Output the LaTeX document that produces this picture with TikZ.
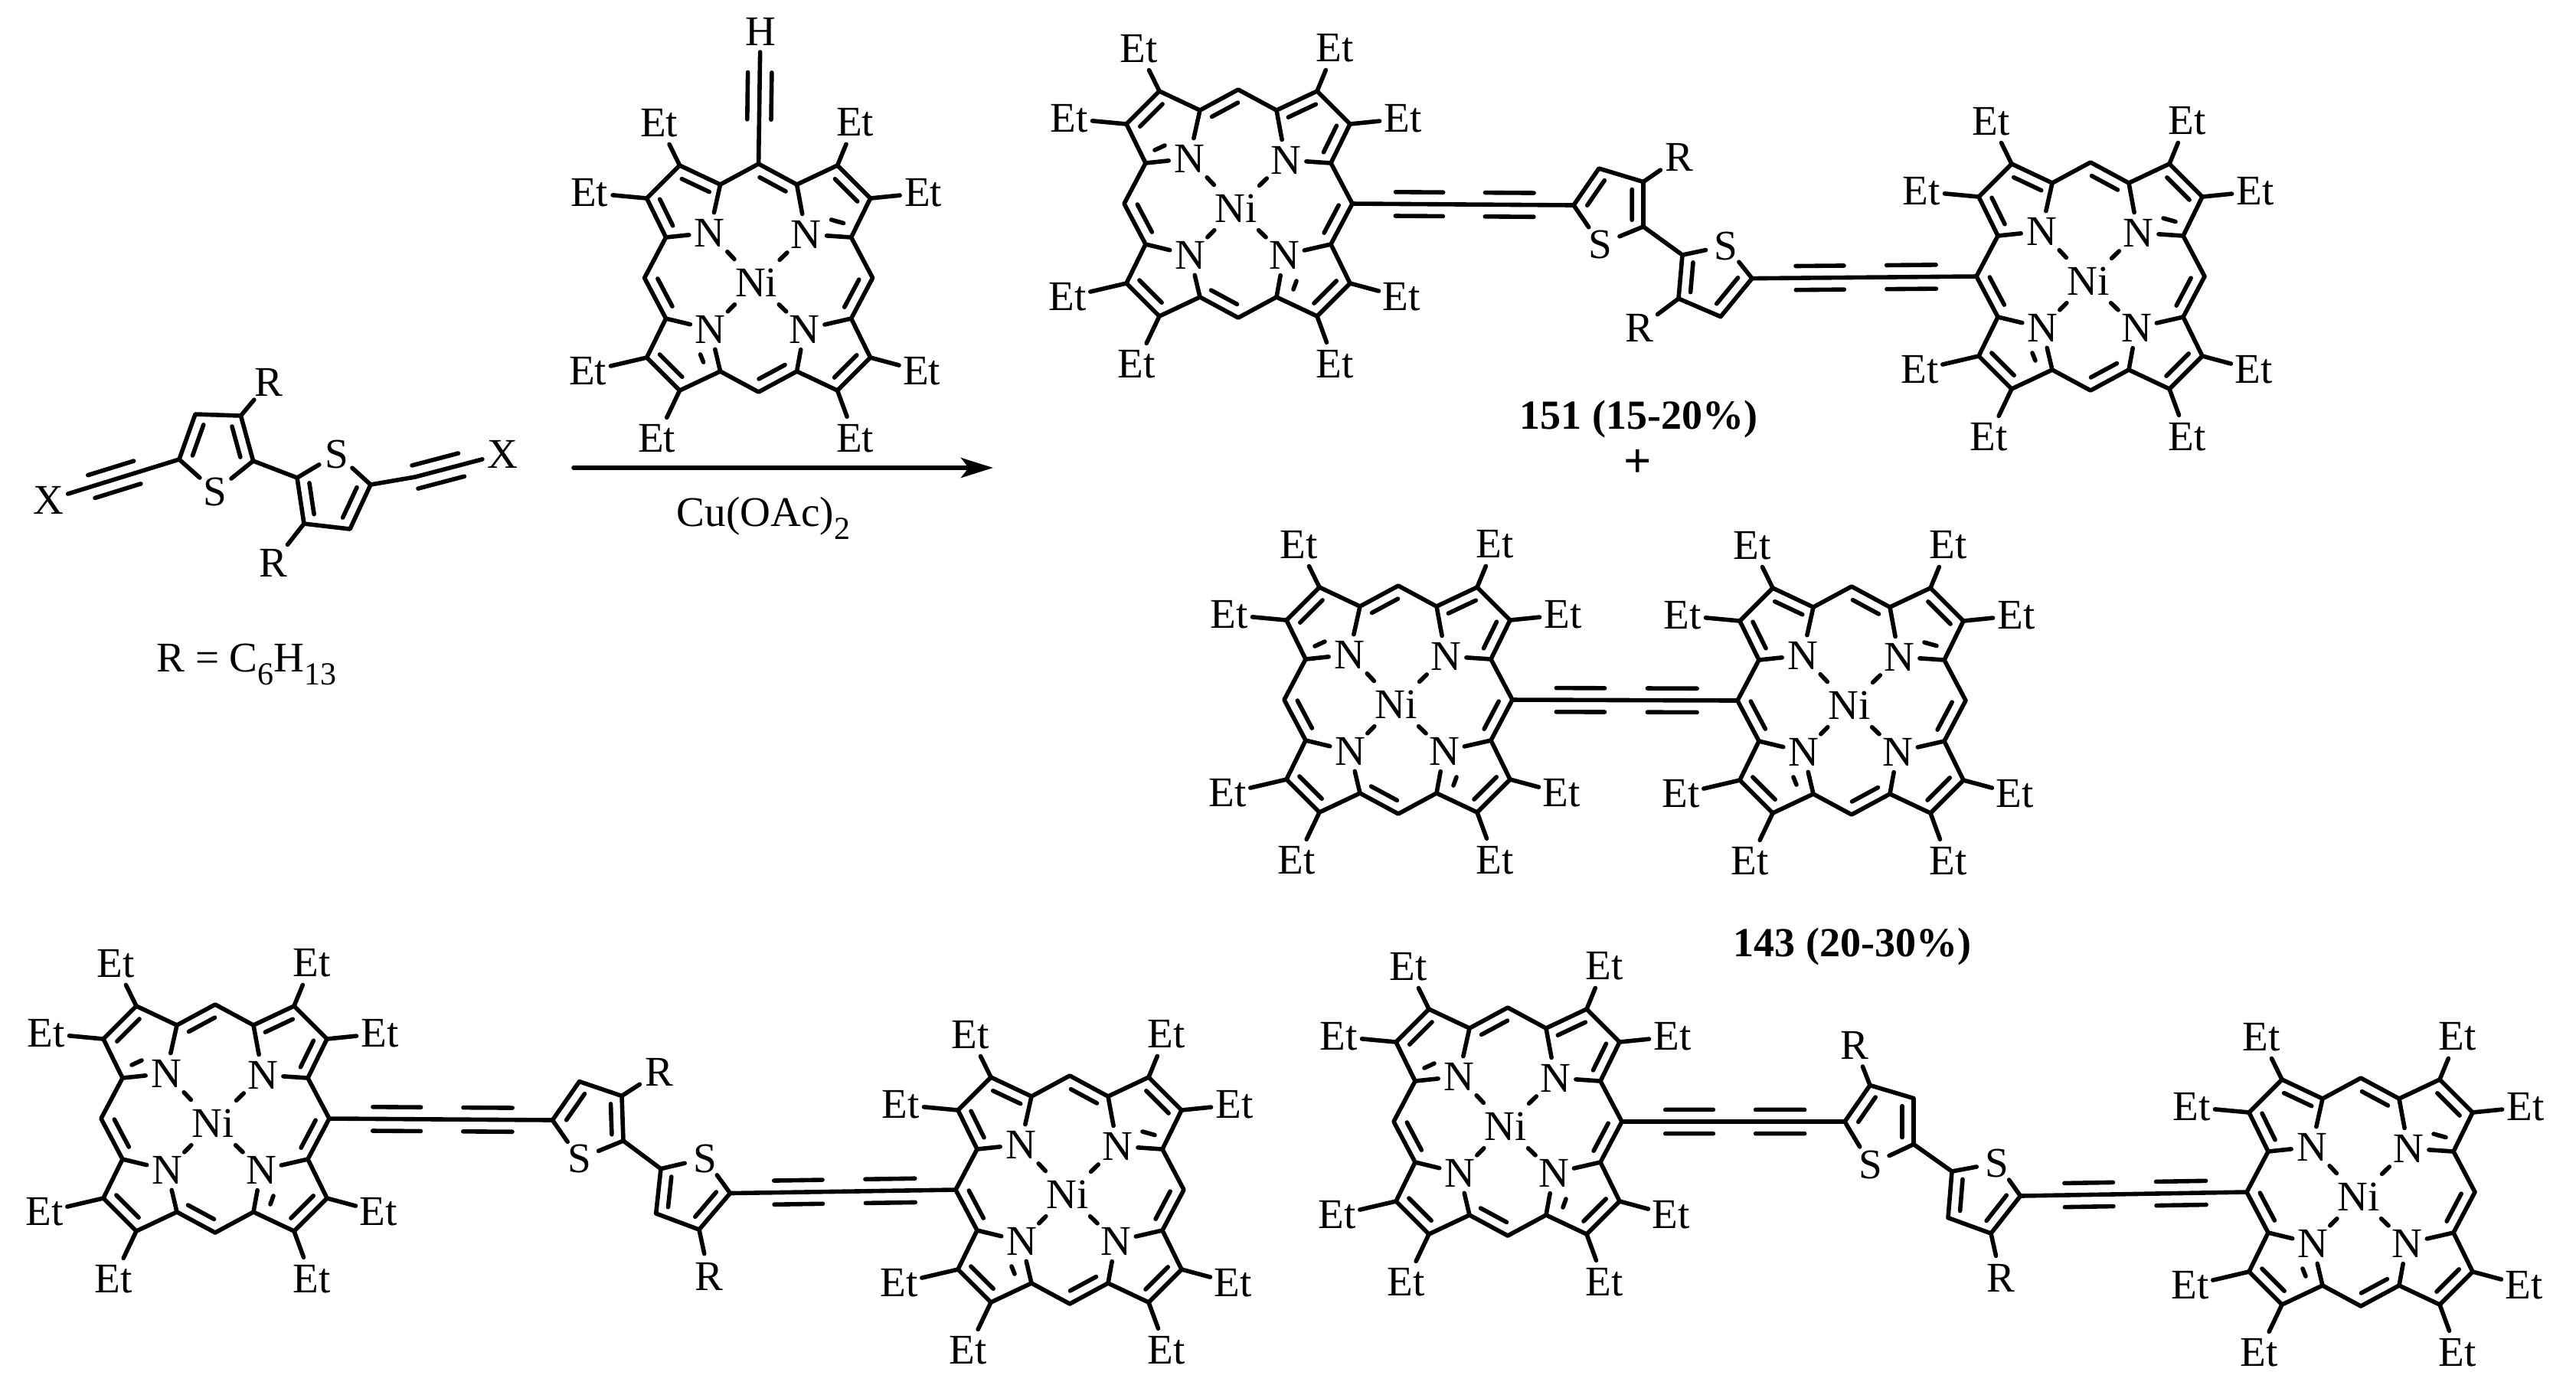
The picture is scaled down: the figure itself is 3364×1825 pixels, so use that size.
\documentclass[tikz,border=0pt]{standalone}
\usepackage{fontspec}
\setmainfont{Liberation Serif}
\usetikzlibrary{
		calc,
		arrows.meta
	}
\newcommand{\bsep}{3.9pt}
\newcommand{\dsep}{3.7pt}
\newcommand{\kekA}{0/1,2/3,5/6,7/8,9/10,12/13,14/15,16/17,18/19}
\newcommand{\kekB}{19/0,1/2,3/4,5/6,7/8,10/11,12/13,14/15,17/18}
\newcommand{\stubA}{95/-76/111/-71.5,-76/100/-72/110}
\newcommand{\stubB}{-109/-70/-96/-76,72/112/76/101}
\newcommand{\lowsub}[1]{\raisebox{-.3em}{\fontsize{10.5}{12}\selectfont #1}}
\tikzset{
		>=Stealth,
		bond/.style={line width=1.4pt,line cap=round,line join=round},
		atom/.style={circle,inner sep=0pt,outer sep=0pt,minimum size=13.5pt,font=\fontsize{13.8}{15}\selectfont},
		etatom/.style={atom,minimum size=15pt},
		lbl/.style={font=\fontsize{13.8}{15}\selectfont},
		boldlbl/.style={font=\fontsize{13.5}{15}\selectfont\bfseries},
		pics/porph/.style 2 args={code={
			\foreach \x/\y [count=\n from 0] in {0/-149,50/-122,103/-147,146/-104,121/-53,149/0,121/53,146/104,103/147,50/122,0/149,-50/122,-103/147,-146/104,-121/53,-149/0,-121/-53,-146/-104,-103/-147,-50/-122}{
				\coordinate (-c\n) at (\x,\y);
			}
			\draw[bond] (-c0) foreach \n in {1,...,19}{ -- (-c\n) } -- cycle;
			\foreach \a/\b in #1 { % inner line of each double bond
				\draw[bond] ($(-c\a)!.17!(-c\b)!\dsep!-90:(-c\b)$) -- ($(-c\a)!.85!(-c\b)!\dsep!90:(-c\a)$);
			}
			\foreach \xa/\ya/\xb/\yb in #2 {
				\draw[bond] (\xa,\ya) -- (\xb,\yb);
			}
			\node[atom] (-ni) at (-3,6) {Ni};
			\foreach \k/\x/\y in {1/-64/-59,2/62/-57,3/60/67,4/-63/67}{
				\node[atom] (-n\k) at (\x,\y) {N};
				\draw[bond] ($(-n\k)!.38!(-ni)$) -- ($(-n\k)!.53!(-ni)$);
			}
			\foreach \n/\k in {19/1,16/1,1/2,4/2,6/3,9/3,11/4,14/4}{
				\draw[bond] (-c\n) -- (-n\k);
			}
			\foreach \n/\x/\y in {18/-130/-202,17/-221/-111,2/126/-203,3/215/-111,7/213/122,8/126/210,12/-133/210,13/-223/122}{
				\node[etatom] (-e\n) at (\x,\y) {Et};
				\draw[bond] (-c\n) -- (-e\n);
			}
		}},
		pics/thring/.style n args={5}{code={
			\coordinate (-a) at #1;
			\coordinate (-b) at #2;
			\coordinate (-c) at #3;
			\coordinate (-d) at #4;
			\node[atom] (-s) at #5 {S};
			\draw[bond] (-s) -- (-a) -- (-b) -- (-c) -- (-d) -- (-s);
			\foreach \a/\b in {a/b,c/d}{
				\draw[bond] ($(-\a)!.17!(-\b)!\dsep!-90:(-\b)$) -- ($(-\a)!.85!(-\b)!\dsep!90:(-\a)$);
			}
		}},
		pics/yne/.style n args={4}{code={
			\foreach \s/\t in {90/-90,-90/90}{
				\draw[bond] ($(#1)!#3!(#2)!\bsep!\s:(#2)$) -- ($(#1)!#4!(#2)!\bsep!\t:(#1)$);
			}
		}},
		pics/diyne/.style 2 args={code={
			\draw[bond] (#1) -- (#2);
			\pic {yne={#1}{#2}{.195}{.41}};
			\pic {yne={#1}{#2}{.60}{.82}};
		}}
	}
\begin{document}
\begin{tikzpicture}[x=.25pt,y=-.25pt] % (one unit = one pixel of the 3364 wide image)
		\useasboundingbox (0,0) rectangle (3364,1825);
		% the metal complexes
		\pic (pa) at (990.6,363) {porph={\kekA}{\stubA}};
		\pic (pb) at (1617,266) {porph={\kekB}{\stubB}};
		\pic (pc) at (2730,361) {porph={\kekA}{\stubA}};
		\pic (pd) at (1826,914) {porph={\kekB}{\stubB}};
		\pic (pe) at (2418,915) {porph={\kekA}{\stubA}};
		\pic (pf) at (281,1461) {porph={\kekB}{\stubB}};
		\pic (pg) at (1397,1554) {porph={\kekA}{\stubA}};
		\pic (ph) at (1969,1465) {porph={\kekB}{\stubB}};
		\pic (pi) at (3083,1557) {porph={\kekA}{\stubA}};
		% alkyne on the reagent
		\node[atom] (hatom) at (993,41) {H};
		\draw[bond] (pa-c0) -- (hatom);
		\pic {yne={pa-c0}{hatom}{.335}{.69}};
		% starting material
		\pic (ta) {thring={(234,600)}{(255,541)}{(314.5,543)}{(330.6,602)}{(281,642)}};
		\pic (tb) {thring={(484,633)}{(457,691)}{(397,684)}{(388,624)}{(440,593)}};
		\draw[bond] (ta-d) -- (tb-d);
		\node[etatom] (ra) at (351,499) {R};
		\node[etatom] (rb) at (357,735) {R};
		\draw[bond] (ta-c) -- (ra);
		\draw[bond] (tb-c) -- (rb);
		\node[atom] (xl) at (63,653) {X};
		\node[atom] (xr) at (656,593) {X};
		\coordinate (kink) at (542,623);
		\draw[bond] (ta-a) -- (xl);
		\draw[bond] (tb-a) -- (kink) -- (xr);
		\pic {yne={ta-a}{xl}{.32}{.67}};
		\pic {yne={kink}{xr}{0}{.53}};
		\node[lbl] (rdef) at (322,868) {R = C\lowsub{6}H\lowsub{13}};
		% reaction arrow
		\coordinate (arra) at (749,611);
		\coordinate (arrb) at (1297,611);
		\draw[bond,-{Stealth[length=10.5pt,width=6.5pt,inset=2.5pt]}] (arra) -- (arrb);
		\node[lbl] (cond) at (997,677) {Cu(OAc)\lowsub{2}};
		% product 151
		\pic (tc) {thring={(2055,268)}{(2088,220)}{(2146,237.5)}{(2146,296)}{(2090,319)}};
		\pic (td) {thring={(2288,363.6)}{(2247,413.6)}{(2192,390)}{(2197,333)}{(2254,321)}};
		\draw[bond] (tc-d) -- (td-d);
		\node[etatom] (rc) at (2193,205) {R};
		\node[etatom] (rd) at (2140.5,428.6) {R};
		\draw[bond] (tc-c) -- (rc);
		\draw[bond] (td-c) -- (rd);
		\pic {diyne={pb-c5}{tc-a}};
		\pic {diyne={td-a}{pc-c15}};
		\node[boldlbl] (lbla) at (2140,547) {151 (15-20\%)};
		\node[boldlbl] (plus) at (2139,605) {\fontsize{16}{16}\selectfont +};
		% product 143
		\pic {diyne={pd-c5}{pe-c15}};
		\node[boldlbl] (lblb) at (2419,1236) {143 (20-30\%)};
		% lower left isomer
		\pic (te) {thring={(721.5,1463)}{(756.6,1412.6)}{(812,1431.4)}{(814,1490)}{(756.6,1513.5)}};
		\pic (tf) {thring={(953.5,1558.5)}{(913,1606)}{(856.7,1585)}{(863,1526.6)}{(920.5,1513)}};
		\draw[bond] (te-d) -- (tf-d);
		\node[etatom] (re) at (860.6,1400) {R};
		\node[etatom] (rf) at (926,1667) {R};
		\draw[bond] (te-c) -- (re);
		\draw[bond] (tf-b) -- (rf);
		\pic {diyne={pf-c5}{te-a}};
		\pic {diyne={tf-a}{pg-c15}};
		% lower right isomer
		\pic (tg) {thring={(2409,1465)}{(2442,1417.5)}{(2499,1434.5)}{(2499,1494.6)}{(2442.6,1521)}};
		\pic (th) {thring={(2638.5,1562)}{(2600,1611)}{(2544,1590.6)}{(2549,1530)}{(2607.8,1519)}};
		\draw[bond] (tg-d) -- (th-d);
		\node[etatom] (rg) at (2421.5,1365) {R};
		\node[etatom] (rh) at (2613,1669.6) {R};
		\draw[bond] (tg-b) -- (rg);
		\draw[bond] (th-b) -- (rh);
		\pic {diyne={ph-c5}{tg-a}};
		\pic {diyne={th-a}{pi-c15}};
	\end{tikzpicture}
\end{document}
